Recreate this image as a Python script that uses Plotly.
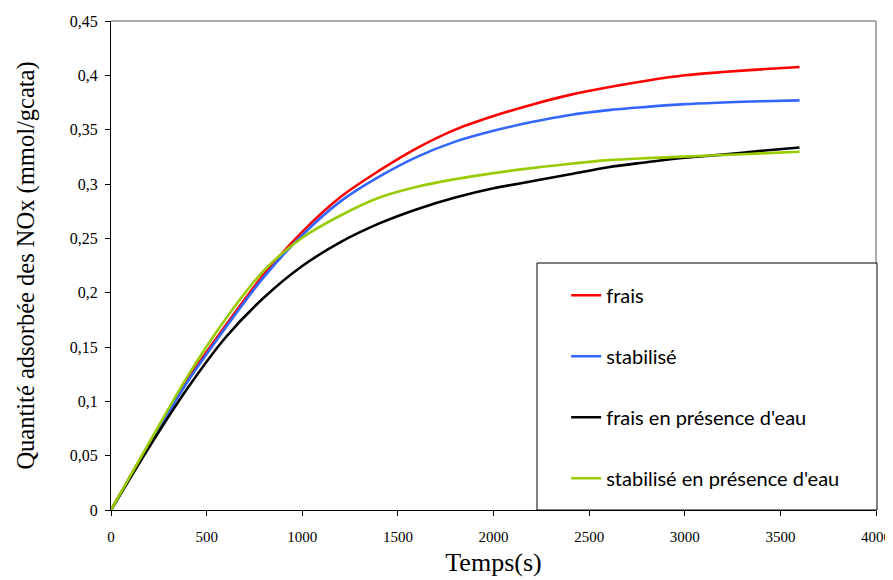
import plotly.graph_objects as go

temps = [0, 200, 400, 600, 800, 1000, 1200, 1400, 1600, 1800, 2000, 2200, 2400, 2600, 2800, 3000, 3200, 3400, 3600]

frais = [0, 0.061, 0.120, 0.170, 0.217, 0.256, 0.288, 0.312, 0.333, 0.350, 0.3625, 0.373, 0.382, 0.389, 0.395, 0.400, 0.403, 0.4055, 0.4077]
stabilise = [0, 0.060, 0.118, 0.168, 0.2145, 0.253, 0.284, 0.3065, 0.325, 0.339, 0.349, 0.357, 0.3635, 0.368, 0.371, 0.3735, 0.375, 0.3762, 0.377]
frais_eau = [0, 0.058, 0.112, 0.159, 0.1955, 0.2245, 0.2465, 0.2635, 0.2768, 0.2875, 0.296, 0.3025, 0.309, 0.3155, 0.320, 0.3242, 0.327, 0.3305, 0.3336]
stabilise_eau = [0, 0.062, 0.123, 0.176, 0.2205, 0.2505, 0.271, 0.2873, 0.2975, 0.3045, 0.310, 0.3146, 0.3187, 0.322, 0.3238, 0.3252, 0.3267, 0.3282, 0.3297]

series_names = ["frais", "stabilisé", "frais en présence d'eau", "stabilisé en présence d'eau"]
series_values = [frais, stabilise, frais_eau, stabilise_eau]
series_colors = ["#ff0000", "#3366ff", "#000000", "#99cc00"]

y_ticks = [0, 0.05, 0.1, 0.15, 0.2, 0.25, 0.3, 0.35, 0.4, 0.45]
y_ticktext = ["0", "0,05", "0,1", "0,15", "0,2", "0,25", "0,3", "0,35", "0,4", "0,45"]
x_ticks = [0, 500, 1000, 1500, 2000, 2500, 3000, 3500, 4000]

fig = go.Figure()
for i, (name, vals, col) in enumerate(zip(series_names, series_values, series_colors)):
    fig.add_trace(go.Scatter(
        x=temps, y=vals, name=name, mode="lines",
        line=dict(color=col, width=2.6, shape="spline", smoothing=0.9),
        legendgroup=f"g{i}",
    ))

serif = "Liberation Serif, Times New Roman, serif"

# page body has an 8px margin: the figure is offset by 8px
fig.update_layout(
    width=893, height=572,
    margin=dict(l=103, r=25, t=13, b=70),
    paper_bgcolor="white", plot_bgcolor="white",
    showlegend=True,
    legend=dict(
        x=0.595, y=0.479, xanchor="left", yanchor="top",
        bgcolor="rgba(0,0,0,0)", borderwidth=0,
        font=dict(family="Lato, Open Sans, sans-serif", size=20, color="black"),
        tracegroupgap=32, itemwidth=30,
    ),
    xaxis=dict(
        range=[0, 4000], tickvals=x_ticks, showgrid=False, zeroline=False,
        showline=True, linecolor="black", linewidth=1, automargin=False,
        ticks="outside", ticklen=5, tickcolor="black", ticklabelstandoff=8,
        ticklabeloverflow="allow",
        tickfont=dict(family=serif, size=15, color="black"),
        title=dict(text="Temps(s)", font=dict(family=serif, size=26, color="black"), standoff=8),
    ),
    yaxis=dict(
        range=[0, 0.45], tickvals=y_ticks, ticktext=y_ticktext, showgrid=False, zeroline=False,
        showline=True, linecolor="black", linewidth=1, automargin=False,
        ticks="outside", ticklen=5, tickcolor="black", ticklabelstandoff=4,
        tickfont=dict(family=serif, size=16, color="black"),
        title=dict(text="Quantité adsorbée des NOx (mmol/gcata)", font=dict(family=serif, size=24.5, color="black"), standoff=28),
    ),
    shapes=[
        dict(type="line", xref="paper", yref="paper", x0=0, x1=1, y0=1, y1=1,
             line=dict(color="#aaaaaa", width=2), layer="below"),
        dict(type="line", xref="paper", yref="paper", x0=1, x1=1, y0=0, y1=1,
             line=dict(color="#aaaaaa", width=2), layer="below"),
        dict(type="rect", xref="paper", yref="paper",
             x0=(537 - 111) / 765, x1=(877 - 111) / 765, y0=0, y1=(510 - 263) / 489,
             line=dict(color="black", width=1), fillcolor="white", layer="above"),
    ],
)

fig.write_html("out.html")
